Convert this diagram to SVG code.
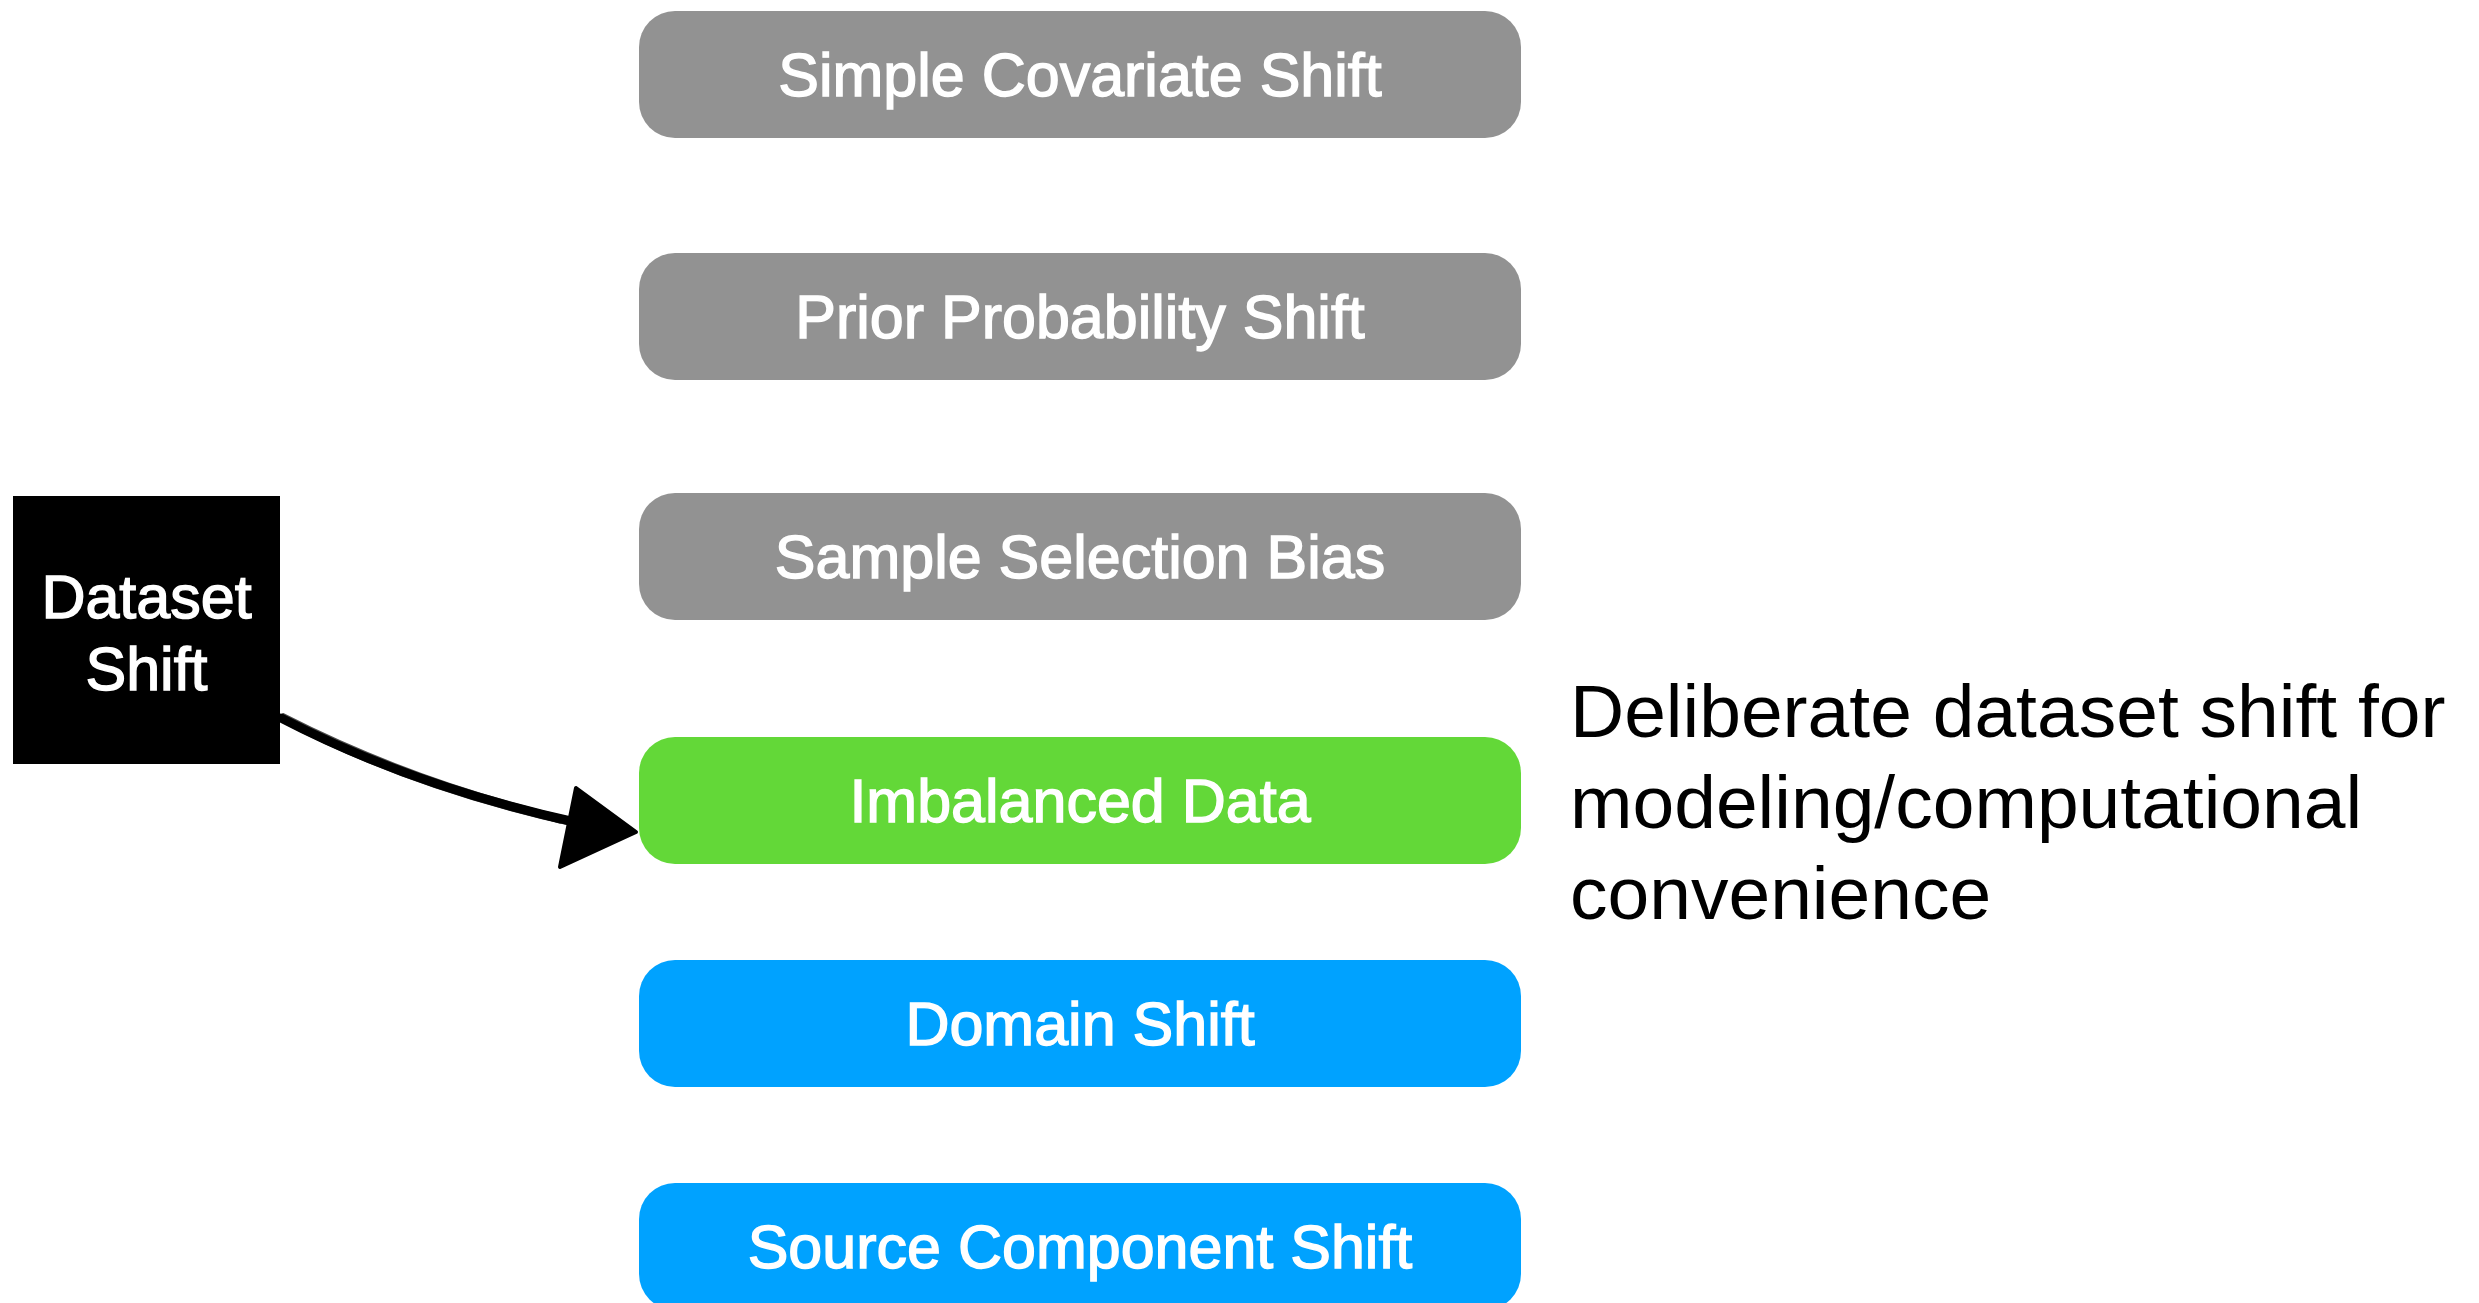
<svg xmlns="http://www.w3.org/2000/svg" width="2479" height="1303" viewBox="0 0 2479 1303">
<style>
.box{rx:36px;ry:36px}
.gray{fill:#929292}
.green{fill:#63D838}
.blue{fill:#00A2FF}
.lbl{font-family:"Liberation Sans",Arial,sans-serif;font-size:61px;fill:#fff;text-anchor:middle;stroke:#fff;stroke-width:1.4px}
.note{font-family:"Liberation Sans",Arial,sans-serif;font-size:75px;fill:#000}
</style>
<rect width="2479" height="1303" fill="#fff"/>
<g id="dataset-shift">
<rect x="13" y="496" width="267" height="268" fill="#000"/>
<text class="lbl" x="146.5" y="618">Dataset</text>
<text class="lbl" x="146.5" y="690">Shift</text>
</g>
<g id="simple-covariate-shift">
<rect class="box gray" x="639" y="11" width="882" height="127"/>
<text class="lbl" x="1080" y="96">Simple Covariate Shift</text>
</g>
<g id="prior-probability-shift">
<rect class="box gray" x="639" y="253" width="882" height="127"/>
<text class="lbl" x="1080" y="338">Prior Probability Shift</text>
</g>
<g id="sample-selection-bias">
<rect class="box gray" x="639" y="493" width="882" height="127"/>
<text class="lbl" x="1080" y="578">Sample Selection Bias</text>
</g>
<g id="imbalanced-data">
<rect class="box green" x="639" y="737" width="882" height="127"/>
<text class="lbl" x="1080" y="822">Imbalanced Data</text>
</g>
<g id="domain-shift">
<rect class="box blue" x="639" y="960" width="882" height="127"/>
<text class="lbl" x="1080" y="1045">Domain Shift</text>
</g>
<g id="source-component-shift">
<rect class="box blue" x="639" y="1183" width="882" height="127"/>
<text class="lbl" x="1080" y="1268">Source Component Shift</text>
</g>
<g id="note">
<text class="note" x="1570" y="737">Deliberate dataset shift for</text>
<text class="note" x="1570" y="828">modeling/computational</text>
<text class="note" x="1570" y="919">convenience</text>
</g>
<g id="connectors" fill="none" stroke="#000" stroke-linecap="round">
<path d="M281,718 Q412,786 575,822" stroke-width="9"/>
<path d="M283,722 Q410,789 572,825" stroke-width="2.5" opacity="0.8"/>
<path d="M283,714 Q416,782 570,818" stroke-width="2" opacity="0.7"/>
<path d="M295,726 Q430,785 560,823" stroke-width="1.5" opacity="0.6"/>
<polygon points="576,788 636,832 560,867" fill="#000" stroke="#000" stroke-width="4" stroke-linejoin="round"/>
</g>
</svg>
